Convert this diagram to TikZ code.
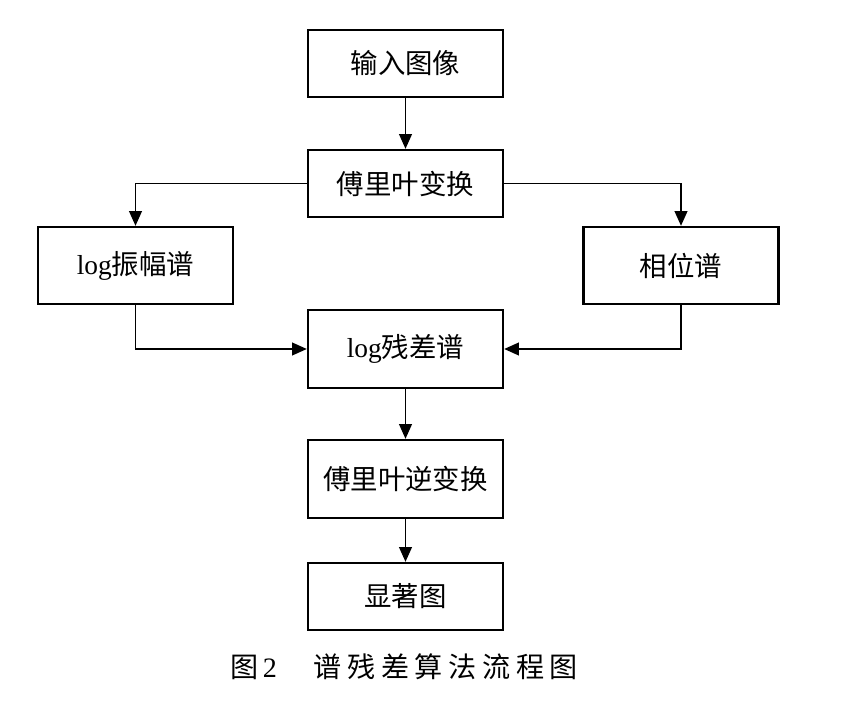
\documentclass[tikz,border=0pt]{standalone}
\usepackage{fontspec}
\setmainfont{Liberation Serif}
\newfontfamily\cjk{Noto Sans CJK SC}
\newfontfamily\cjkvali[LetterSpace=20]{Noto Sans CJK SC}
\usetikzlibrary{arrows.meta}
\definecolor{musta}{HTML}{000000}
\definecolor{valkoinen}{HTML}{FFFFFF}
\tikzset{
	laatikko/.style={draw=musta, line width=1.6pt, fill=valkoinen, minimum width=4.875cm, inner sep=0pt, font=\fontsize{19.5}{23}\selectfont\cjk},
	nuoli/.style={draw=musta, line width=1.4pt, -{Triangle[length=10.5pt,width=9pt]}}
}
\begin{document}
			\begin{tikzpicture}[x=0.025cm, y=-0.025cm]
				\useasboundingbox (0,0) rectangle (850,708);
				\node[laatikko, minimum height=1.675cm] (kuva) at (405.5,63.5) {输入图像};
				\node[laatikko, minimum height=1.675cm] (fft) at (405.5,183.5) {傅里叶变换};
				\node[laatikko, minimum height=1.925cm] (amp) at (135.5,265.5) {{\rmfamily log}振幅谱};
				\node[laatikko, minimum height=1.925cm] (vaihe) at (681,265.5) {相位谱};
				\node[laatikko, minimum height=1.95cm] (jaannos) at (405.5,349) {{\rmfamily log}残差谱};
				\node[laatikko, minimum height=1.95cm] (ifft) at (405.5,479) {傅里叶逆变换};
				\node[laatikko, minimum height=1.675cm] (kartta) at (405.5,596.5) {显著图};
				\node[font=\fontsize{20}{24}\selectfont] (otsikko) at (404,667) {{\cjk 图}\,2\hspace{1.3em}{\cjkvali 谱残差算法流程图}};
				\draw[nuoli] (kuva) -- (fft);
				\draw[nuoli] (fft.west) -| (amp.north);
				\draw[nuoli] (fft.east) -| (vaihe.north);
				\draw[nuoli] (amp.south) |- (jaannos.west);
				\draw[nuoli] (vaihe.south) |- (jaannos.east);
				\draw[nuoli] (jaannos) -- (ifft);
				\draw[nuoli] (ifft) -- (kartta);
			\end{tikzpicture}
\end{document}
